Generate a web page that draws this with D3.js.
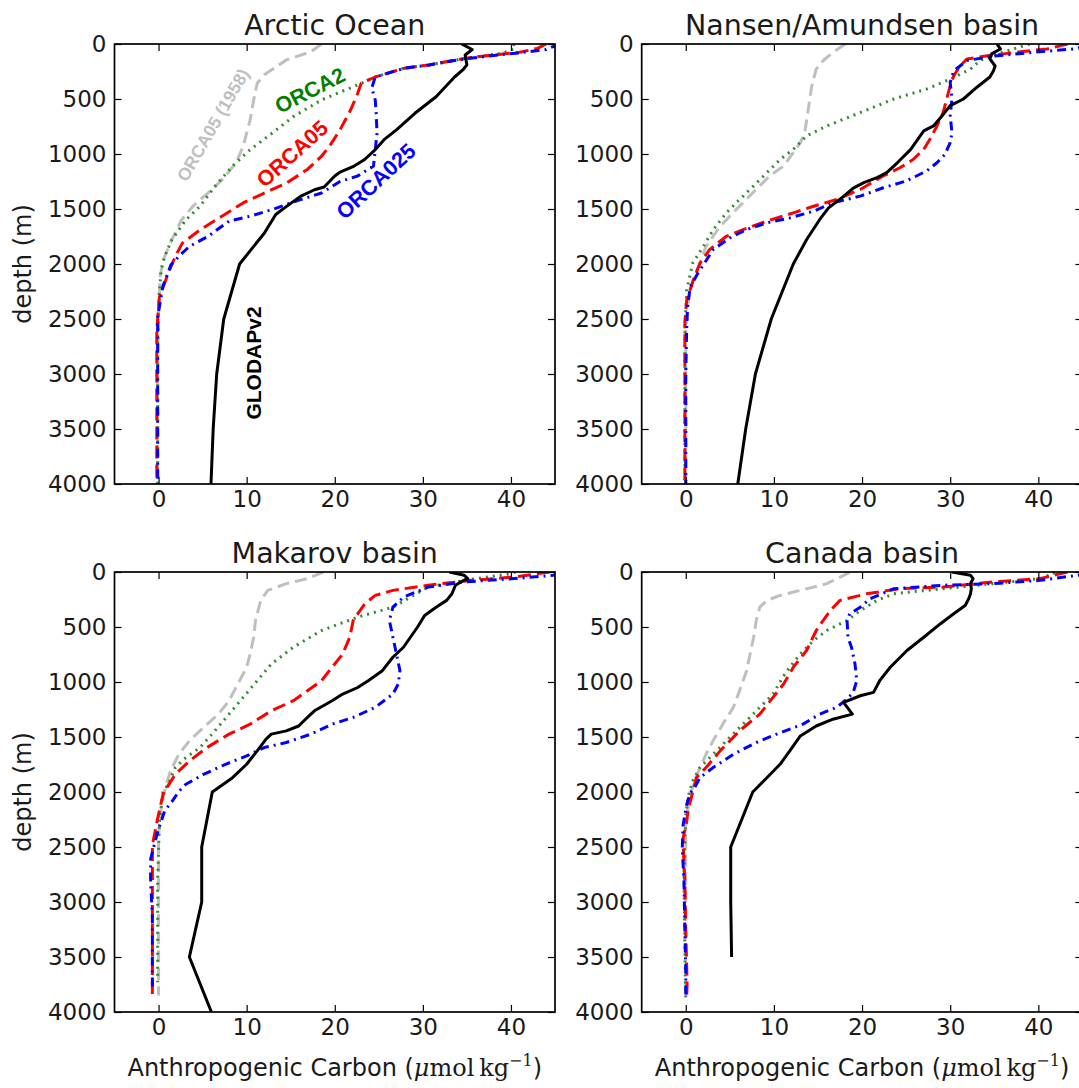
<!DOCTYPE html>
<html>
<head>
<meta charset="utf-8">
<script src="https://cdn.jsdelivr.net/npm/d3@7"></script>
<style>
  html, body { margin: 0; padding: 0; background: #fff; }
  svg { display: block; }
</style>
</head>
<body>
<script>
// ---------- DATA ----------
const panelTitles = ["Arctic Ocean", "Nansen/Amundsen basin", "Makarov basin", "Canada basin"];
const xTicks = [0, 10, 20, 30, 40];
const yTicks = [0, 500, 1000, 1500, 2000, 2500, 3000, 3500, 4000];
const seriesNames = ["ORCA05 (1958)", "ORCA2", "ORCA05", "ORCA025", "GLODAPv2"];

// Panel 1: Arctic Ocean  [carbon, depth]
const arcticGray = [[18.5,0],[17.3,70],[14.5,145],[12,280],[11.2,357],[10.8,508],[10.4,690],[10,810],[9.6,930],[8.8,1080],[7.2,1235],[5.6,1355],[3.9,1475],[2.6,1600],[1.5,1780],[0.6,1950],[0.2,2100],[0,2400],[-0.1,3000],[-0.1,4000]];
const arcticGreen = [[40.3,0],[40.5,40],[39,85],[34.8,130],[30.7,190],[27.9,220],[24.6,300],[22.6,372],[18.5,508],[15.3,660],[12.9,810],[10.4,960],[8.4,1110],[6.4,1295],[4.7,1475],[3.1,1600],[1.5,1780],[0.7,1930],[0.3,2050],[0.05,2300],[-0.1,2700],[-0.1,3200],[-0.1,3700],[-0.1,4000]];
const arcticRed = [[44,0],[43,40],[41,75],[37.5,105],[34.8,130],[30.7,190],[27.9,220],[24.6,300],[23,357],[22.6,450],[21.8,600],[20.6,780],[19.4,930],[18.5,1020],[16.9,1140],[14.5,1265],[12,1355],[9.6,1445],[7.2,1565],[4.7,1690],[2.7,1810],[1.9,1930],[1.1,2085],[0.1,2300],[-0.2,2600],[-0.2,3000],[-0.2,3500],[-0.2,4000]];
const arcticBlue = [[45.5,0],[44,50],[41,80],[38,105],[34.8,135],[30.7,190],[27.9,220],[24.6,300],[24.2,400],[24.6,510],[24.7,630],[24.8,810],[24.6,960],[24.4,1110],[22.6,1200],[20.6,1250],[18.5,1355],[16.1,1415],[12.9,1505],[10.4,1565],[8,1610],[5.6,1750],[3.5,1840],[2.3,1930],[1.4,2010],[0.5,2200],[-0.1,2480],[-0.1,3000],[-0.1,3500],[-0.1,4000]];
const arcticBlack = [[34.4,0],[35.6,50],[34.8,100],[35,190],[34.6,230],[33.6,300],[31.5,480],[29.1,630],[27,780],[25.6,870],[24.6,960],[23.4,1050],[22.2,1110],[20.6,1165],[20,1200],[18.8,1300],[17.7,1325],[16.1,1385],[14.3,1490],[13.3,1550],[12,1720],[10.8,1840],[9.2,2000],[7.4,2500],[6.6,3000],[6.2,3500],[5.95,4000]];

// Panel 2: Nansen/Amundsen basin
const nansenGray = [[18.1,0],[16.7,76],[15.6,150],[14.8,228],[14.3,380],[13.9,593],[13.5,806],[13,897],[12.2,988],[11.1,1110],[9.5,1200],[8,1322],[6.1,1474],[3.9,1657],[2.3,1840],[1.6,1990],[0.8,2150],[0.3,2330],[0,2600],[0,3000],[0,4000]];
const nansenGreen = [[39,0],[37,50],[34.5,110],[33.4,150],[32.3,228],[30,320],[27.3,410],[23.6,500],[19.8,623],[16,745],[13.7,836],[12.2,958],[10.7,1050],[9.2,1170],[7.7,1290],[6.1,1414],[4.6,1535],[3.1,1690],[2,1840],[0.8,1990],[0.1,2240],[-0.1,2600],[-0.1,3000],[-0.1,3500],[-0.1,4000]];
const nansenRed = [[43.3,0],[41,45],[38,70],[34,110],[31.9,137],[31.1,200],[30.4,290],[30,380],[29.6,500],[29.2,623],[28.5,745],[27.7,866],[27,958],[25.8,1050],[24.3,1125],[22.4,1200],[19.8,1322],[17.1,1414],[14.5,1475],[12.2,1535],[9.2,1610],[6.5,1687],[4.6,1748],[2.7,1870],[1.6,1995],[0.8,2160],[0.1,2330],[-0.1,2530],[-0.1,3000],[-0.1,3500],[-0.1,4000]];
const nansenBlue = [[45.5,20],[44,45],[39.5,75],[34.9,110],[31.9,150],[30.4,245],[30,350],[30.2,500],[30,650],[30.2,806],[30,897],[29.4,1003],[28.5,1080],[27.3,1155],[25,1246],[22.4,1307],[19.8,1383],[16.7,1444],[14.5,1520],[11.8,1581],[9.2,1626],[6.9,1687],[5,1763],[3.1,1870],[2.1,1995],[1.4,2080],[0.5,2210],[0.2,2390],[0.1,2600],[0,3000],[0,3500],[0,4000]];
const nansenBlack = [[35.3,0],[35.7,45],[34.7,90],[34.5,135],[35.1,200],[34.9,245],[34.5,300],[33,395],[31.5,500],[30,560],[28.9,670],[28.1,745],[27,790],[26.6,835],[25.5,960],[24,1080],[22.8,1170],[21.7,1215],[20.2,1260],[19,1310],[17.9,1385],[16.2,1490],[15.2,1595],[13.7,1780],[12.2,2000],[9.7,2500],[7.9,3000],[6.8,3500],[5.9,4000]];

// Panel 3: Makarov basin
const makarovGray = [[18.7,0],[16.9,60],[14.5,106],[12.4,167],[11.6,258],[11,440],[10.8,593],[10.4,745],[10,866],[9.2,988],[8,1170],[6.8,1292],[5.1,1414],[3.5,1535],[2.3,1657],[1.4,1800],[0.8,1950],[0.3,2150],[0,2400],[0,2800],[0,3300],[0,3850]];
const makarovGreen = [[40.5,0],[40,15],[34.7,76],[30.6,137],[28.6,228],[26.6,320],[22.6,410],[18.5,532],[15.3,684],[12.8,836],[11.2,988],[9.6,1140],[8,1292],[6.4,1444],[4.7,1596],[3.1,1687],[1.9,1778],[1.1,1930],[0.5,2000],[0.1,2270],[-0.1,2800],[-0.1,3300],[-0.1,3730]];
const makarovRed = [[44.4,0],[40.4,45],[35.5,76],[30.6,120],[26.6,167],[24.6,213],[23.4,290],[22.1,440],[21.7,593],[20.9,745],[19.7,866],[18.5,988],[16.9,1080],[15.3,1170],[12.8,1262],[10.4,1383],[8,1474],[5.5,1596],[3.5,1718],[1.9,1840],[0.7,1990],[0.5,2025],[-0.1,2240],[-0.7,2480],[-0.7,2820],[-0.7,3420],[-0.7,3880]];
const makarovBlue = [[45.5,20],[44.8,30],[40.4,60],[34.7,90],[30.6,137],[27.8,228],[26.6,320],[26.2,440],[26.6,593],[27,745],[27.4,897],[27.2,1020],[26.6,1110],[24.6,1230],[22.1,1322],[19.7,1383],[17.3,1474],[14.5,1550],[12,1596],[10,1672],[7.6,1748],[5.1,1840],[3.1,1930],[2.3,1995],[1.5,2090],[0.7,2170],[-0.1,2360],[-0.9,2610],[-0.9,2820],[-0.7,3130],[-0.7,3490],[-0.7,3800]];
const makarovBlack = [[33,0],[34.7,30],[35.1,60],[34.3,90],[33.7,120],[33.3,198],[32.7,258],[31.5,320],[30.2,395],[29.4,500],[27.8,684],[26.6,775],[25.4,897],[23.8,988],[22.6,1050],[20.9,1110],[19.7,1170],[17.7,1262],[16.9,1322],[15.9,1400],[14.5,1444],[12.8,1474],[12.2,1520],[11.2,1626],[10,1748],[8.4,1870],[6.1,2000],[4.9,2500],[4.9,3000],[3.5,3500],[6,4000]];

// Panel 4: Canada basin
const canadaGray = [[18.6,0],[18.3,15],[16,106],[13,167],[10.7,213],[9.2,258],[8.4,320],[8,440],[7.7,593],[7.3,745],[6.9,897],[6.1,1080],[5.4,1231],[4.2,1383],[3.1,1535],[2.3,1657],[1.6,1778],[1,1900],[0.4,2050],[0,2300],[0,3000],[0,3880]];
const canadaGreen = [[41.8,0],[41.7,15],[40.2,60],[34.9,106],[31.1,137],[27.3,167],[23.6,198],[21.7,258],[19.8,350],[18.3,440],[16,532],[14.5,623],[13,745],[11.8,866],[11,958],[9.9,1110],[8.4,1231],[6.5,1383],[4.6,1535],[3.1,1657],[1.6,1778],[0.8,1900],[0.4,2000],[0,2200],[-0.2,2800],[-0.1,3420],[0,3880]];
const canadaRed = [[43.3,0],[40.2,60],[34.9,90],[29.2,137],[24.3,152],[20.5,198],[17.5,258],[16.4,350],[15.6,440],[14.8,532],[13.7,714],[12.2,866],[11.1,1018],[9.9,1140],[8.4,1292],[6.1,1444],[3.9,1626],[2.3,1778],[1.2,1870],[0.8,2000],[0.3,2150],[0.1,2270],[-0.3,2420],[-0.2,2670],[-0.1,2820],[0,3270],[0.1,3570],[0.15,3750],[0.1,3870]];
const canadaBlue = [[45.5,20],[44.4,30],[40.2,76],[34.9,106],[29.2,120],[23.6,152],[20.9,243],[19.8,320],[18.6,380],[18.3,440],[18.4,593],[18.8,684],[19.2,836],[19.4,988],[19,1094],[18.3,1155],[17.1,1231],[15.2,1292],[13.3,1383],[10.3,1474],[8,1550],[5.4,1657],[3.1,1778],[1.6,1870],[1,1960],[0.5,2010],[0.1,2115],[-0.3,2300],[-0.4,2510],[-0.2,2820],[-0.1,3270],[0,3630],[0,3880]];
const canadaBlack = [[30.2,0],[32.3,30],[32.6,60],[32.3,106],[32.4,150],[32.3,200],[32.1,243],[31.7,304],[30.4,380],[28.9,470],[27,593],[25.1,714],[23.2,866],[22,988],[21.3,1094],[19.8,1125],[17.9,1186],[18.9,1292],[16.7,1338],[14.8,1400],[13,1490],[11.8,1626],[10.7,1748],[9.2,1870],[7.6,2000],[5.1,2500],[5.1,3000],[5.2,3500]];

// Label anchor positions in panel 1 (data coordinates: carbon, depth) and rotation
const labelPos = [[6.2, 736], [17.2, 425], [15.2, 1000], [24.7, 1250], [10.8, 2900]];
const labelRot = [-60, -27, -42, -43, -90];

// ---------- LAYOUT / STYLE ----------
const W = 1079, H = 1088;
const panelBoxes = [
  {l: 114.5, r: 555, t: 44, b: 484},
  {l: 641.7, r: 1082.4, t: 44, b: 484},
  {l: 114.5, r: 555, t: 572, b: 1012},
  {l: 641.7, r: 1082.4, t: 572, b: 1012}
];
const panelSeries = [
  [arcticGray, arcticGreen, arcticRed, arcticBlue, arcticBlack],
  [nansenGray, nansenGreen, nansenRed, nansenBlue, nansenBlack],
  [makarovGray, makarovGreen, makarovRed, makarovBlue, makarovBlack],
  [canadaGray, canadaGreen, canadaRed, canadaBlue, canadaBlack]
];
const seriesStyle = [
  {color: "#bfbfbf", dash: "12,6", width: 3},
  {color: "#2e8b2e", dash: "2,5", width: 3},
  {color: "#ff0000", dash: "13,6", width: 3},
  {color: "#0000ff", dash: "9,5,2,5", width: 3},
  {color: "#000000", dash: null, width: 3}
];
const labelStyle = [
  {color: "#bfbfbf", size: 17.5},
  {color: "#008000", size: 21.5},
  {color: "#ff0000", size: 21.5},
  {color: "#0000ff", size: 21.5},
  {color: "#000000", size: 21}
];
const FONT = "'DejaVu Sans', sans-serif";
const TICK_FS = 23, TITLE_FS = 28.5, LABEL_FS = 24;

const svg = d3.select("body").append("svg")
  .attr("width", W).attr("height", H)
  .attr("viewBox", `0 0 ${W} ${H}`);
svg.append("rect").attr("width", W).attr("height", H).attr("fill", "#fff");

panelBoxes.forEach((box, i) => {
  const x = d3.scaleLinear().domain([-5, 45]).range([box.l, box.r]);
  const y = d3.scaleLinear().domain([0, 4000]).range([box.t, box.b]);
  const g = svg.append("g");

  const clipId = "clip" + i;
  svg.append("clipPath").attr("id", clipId).append("rect")
    .attr("x", box.l).attr("y", box.t)
    .attr("width", box.r - box.l).attr("height", box.b - box.t);

  const line = d3.line().x(d => x(d[0])).y(d => y(d[1]));
  const lg = g.append("g").attr("clip-path", `url(#${clipId})`);
  panelSeries[i].forEach((s, k) => {
    const st = seriesStyle[k];
    lg.append("path").datum(s)
      .attr("d", line)
      .attr("fill", "none")
      .attr("stroke", st.color)
      .attr("stroke-width", st.width)
      .attr("stroke-dasharray", st.dash)
      .attr("stroke-linejoin", "round");
  });

  // axes (ticks inward on all four sides)
  const axB = d3.axisBottom(x).tickValues(xTicks).tickSizeInner(-7).tickSizeOuter(0).tickPadding(7).tickFormat(d3.format("d"));
  const axT = d3.axisTop(x).tickValues(xTicks).tickSizeInner(-7).tickSizeOuter(0).tickFormat("");
  const axL = d3.axisLeft(y).tickValues(yTicks).tickSizeInner(-7).tickSizeOuter(0).tickPadding(8).tickFormat(d3.format("d"));
  const axR = d3.axisRight(y).tickValues(yTicks).tickSizeInner(-7).tickSizeOuter(0).tickFormat("");

  const styleAxis = sel => {
    sel.select(".domain").remove();
    sel.selectAll("line").attr("stroke", "#000").attr("stroke-width", 1.2);
    sel.selectAll("text").attr("font-family", FONT).attr("font-size", TICK_FS).attr("fill", "#1a1a1a");
  };
  g.append("g").attr("transform", `translate(0,${box.b})`).call(axB).call(styleAxis);
  g.append("g").attr("transform", `translate(0,${box.t})`).call(axT).call(styleAxis);
  g.append("g").attr("transform", `translate(${box.l},0)`).call(axL).call(styleAxis);
  g.append("g").attr("transform", `translate(${box.r},0)`).call(axR).call(styleAxis);

  g.append("rect")
    .attr("x", box.l).attr("y", box.t)
    .attr("width", box.r - box.l).attr("height", box.b - box.t)
    .attr("fill", "none").attr("stroke", "#000").attr("stroke-width", 1.7);

  // title
  g.append("text")
    .attr("x", (box.l + box.r) / 2).attr("y", box.t - 9)
    .attr("text-anchor", "middle")
    .attr("font-family", FONT).attr("font-size", TITLE_FS).attr("fill", "#1a1a1a")
    .text(panelTitles[i]);

  // y label on left panels
  if (i % 2 === 0) {
    g.append("text")
      .attr("transform", `translate(31,${(box.t + box.b) / 2}) rotate(-90)`)
      .attr("text-anchor", "middle")
      .attr("font-family", FONT).attr("font-size", LABEL_FS).attr("fill", "#1a1a1a")
      .text("depth (m)");
  }
  // x label on bottom panels
  if (i >= 2) {
    const t = g.append("text")
      .attr("x", (box.l + box.r) / 2).attr("y", box.b + 64)
      .attr("text-anchor", "middle")
      .attr("font-family", FONT).attr("font-size", LABEL_FS).attr("fill", "#1a1a1a");
    t.append("tspan").text("Anthropogenic Carbon (");
    t.append("tspan").attr("font-family", "'DejaVu Serif', serif").attr("font-style", "italic").text("μ");
    t.append("tspan").attr("font-family", "'DejaVu Serif', serif").text("mol\u2009kg");
    t.append("tspan").attr("font-family", "'DejaVu Serif', serif").attr("font-size", 16).attr("dy", -10).text("−1");
    t.append("tspan").attr("dy", 10).text(")");
  }

  // series labels in first panel
  if (i === 0) {
    seriesNames.forEach((name, k) => {
      const p = labelPos[k];
      g.append("text")
        .attr("transform", `translate(${x(p[0])},${y(p[1])}) rotate(${labelRot[k]})`)
        .attr("text-anchor", "middle").attr("dominant-baseline", "central")
        .attr("font-family", "'Liberation Sans', Arial, sans-serif")
        .attr("font-weight", "bold").attr("font-size", labelStyle[k].size)
        .attr("fill", labelStyle[k].color)
        .text(name);
    });
  }
});
</script>
</body>
</html>
